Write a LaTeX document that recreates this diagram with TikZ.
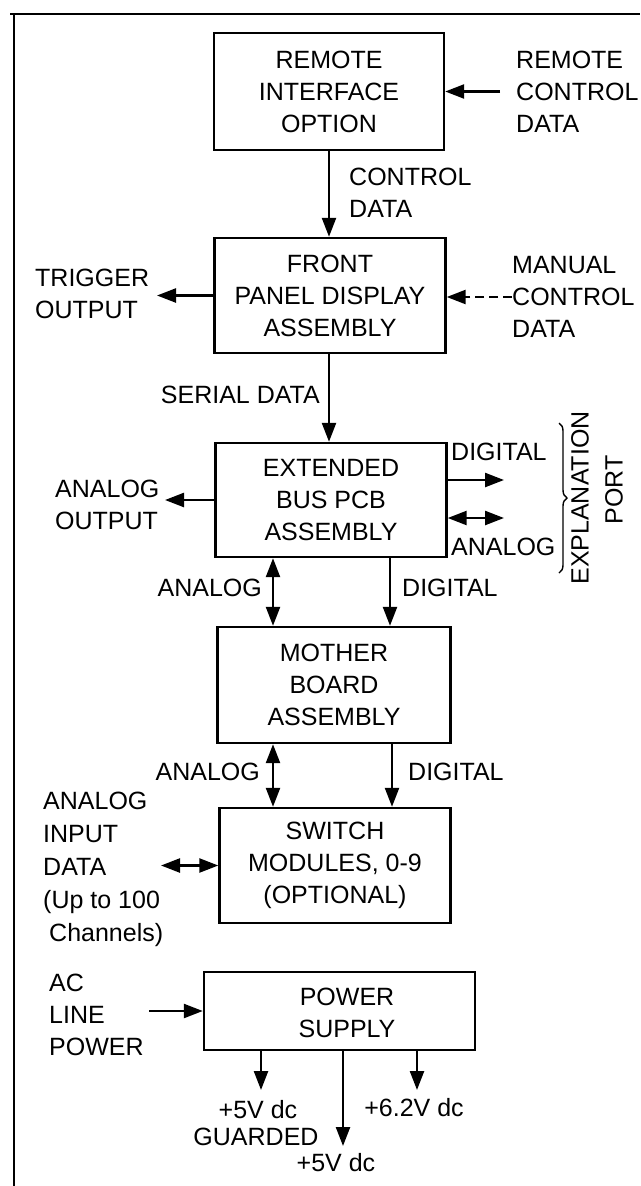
\documentclass[tikz,border=0pt]{standalone}
\usepackage{fontspec}
\setmainfont{Liberation Sans}
\usetikzlibrary{arrows.meta,decorations.pathreplacing}
\begin{document}
\begin{tikzpicture}[x=1pt,y=-1pt,
  lbl/.style={inner sep=0pt, align=left, font=\fontsize{25}{32}\selectfont},
  box/.style={draw, line width=2.4pt, inner sep=0pt, align=center, font=\fontsize{25}{32}\selectfont},
  arr/.style={line width=2.4pt, -{Triangle[length=19pt,width=14pt]}},
  darr/.style={line width=2.4pt, {Triangle[length=19pt,width=14pt]}-{Triangle[length=19pt,width=14pt]}},
  dasharr/.style={arr, dash pattern=on 9pt off 5pt},
  framel/.style={line width=1.6pt},
  bracel/.style={line width=1.4pt, decorate, decoration={brace, amplitude=8pt}}]
\useasboundingbox (0,0) rectangle (640,1186);
% frame
\coordinate (ftl) at (14,14);
\coordinate (ftr) at (640,14);
\coordinate (fts) at (10,14);
\coordinate (fbl) at (14,1186);
\draw[framel] (fts) -- (ftr);
\draw[framel] (ftl) -- (fbl);
% boxes
\node[box, minimum width=230, minimum height=117] (b1) at (329,91.5) {REMOTE\\INTERFACE\\OPTION};
\node[box, minimum width=231, minimum height=115] (b2) at (330,295.5) {FRONT\\PANEL DISPLAY\\ASSEMBLY};
\node[box, minimum width=231, minimum height=114] (b3) at (331,500) {EXTENDED\\BUS PCB\\ASSEMBLY};
\node[box, minimum width=233, minimum height=116] (b4) at (334,685) {MOTHER\\BOARD\\ASSEMBLY};
\node[box, minimum width=231, minimum height=115] (b5) at (335,865.5) {SWITCH\\MODULES, 0-9\\(OPTIONAL)};
\node[box, minimum width=271, minimum height=78] (b6) at (339.5,1011) {};
\node[lbl, align=center] (b6t) at (347,1013) {POWER\\SUPPLY};
% labels
\node[lbl, anchor=west] (rcd) at (516,91.5) {REMOTE\\CONTROL\\DATA};
\node[lbl, anchor=west] (cd) at (349,192.5) {CONTROL\\DATA};
\node[lbl, anchor=west] (mcd) at (512,297) {MANUAL\\CONTROL\\DATA};
\node[lbl, anchor=west] (tro) at (35,294) {TRIGGER\\OUTPUT};
\node[lbl, anchor=east] (sd) at (320,395) {SERIAL DATA};
\node[lbl, anchor=west] (ao) at (55,505) {ANALOG\\OUTPUT};
\node[lbl, anchor=west] (dg1) at (451,452) {DIGITAL};
\node[lbl, anchor=west] (an1) at (451,547) {ANALOG};
\node[lbl, anchor=east] (an2) at (262,588) {ANALOG};
\node[lbl, anchor=west] (dg2) at (402,588) {DIGITAL};
\node[lbl, anchor=east] (an3) at (260,772) {ANALOG};
\node[lbl, anchor=west] (dg3) at (408,772) {DIGITAL};
\node[lbl, anchor=west, font=\fontsize{25}{33}\selectfont] (aid) at (43,869) {ANALOG\\INPUT\\DATA\\(Up to 100\\\hspace*{6pt}Channels)};
\node[lbl, anchor=west] (acl) at (49,1015) {AC\\LINE\\POWER};
\node[lbl] (v1) at (258,1110) {+5V dc};
\node[lbl] (gd) at (256,1137) {GUARDED};
\node[lbl] (v2) at (336,1163) {+5V dc};
\node[lbl] (v3) at (414,1108) {+6.2V dc};
\node[lbl, rotate=90] (expl) at (580,498) {EXPLANATION};
\node[lbl, rotate=90] (port) at (614,490) {PORT};
% coordinates for free ends
\coordinate (rcdIn) at (500,91.5);
\coordinate (mcdIn) at (512,297);
\coordinate (trEnd) at (157,295.5);
\coordinate (aoEnd) at (165,500);
\coordinate (dgEnd) at (504,480);
\coordinate (anEnd) at (504,518);
\coordinate (aiEnd) at (161,865.5);
\coordinate (acIn) at (149,1011);
\coordinate (xa) at (273,0);
\coordinate (xd1) at (390,0);
\coordinate (xd2) at (392,0);
\coordinate (p1) at (261,1090);
\coordinate (p2) at (343,1146);
\coordinate (p3) at (417,1090);
\coordinate (brT) at (559,423);
\coordinate (brB) at (559,573);
% connectors
\draw[arr] (rcdIn) -- (b1.east |- rcdIn);
\draw[arr] (b1.south -| b1) -- (b2.north -| b1);
\draw[dasharr] (mcdIn) -- (b2.east |- mcdIn);
\draw[arr] (b2.west |- trEnd) -- (trEnd);
\draw[arr] (b2.south -| b1) -- (b3.north -| b1);
\draw[arr] (b3.west |- aoEnd) -- (aoEnd);
\draw[arr] (b3.east |- dgEnd) -- (dgEnd);
\draw[darr] (b3.east |- anEnd) -- (anEnd);
\draw[darr] (b3.south -| xa) -- (b4.north -| xa);
\draw[arr] (b3.south -| xd1) -- (b4.north -| xd1);
\draw[darr] (b4.south -| xa) -- (b5.north -| xa);
\draw[arr] (b4.south -| xd2) -- (b5.north -| xd2);
\draw[darr] (aiEnd) -- (b5.west |- aiEnd);
\draw[arr] (acIn) -- (b6.west |- acIn);
\draw[arr] (b6.south -| p1) -- (p1);
\draw[arr] (b6.south -| p2) -- (p2);
\draw[arr] (b6.south -| p3) -- (p3);
\draw[bracel] (brT) -- (brB);
\end{tikzpicture}
\end{document}
